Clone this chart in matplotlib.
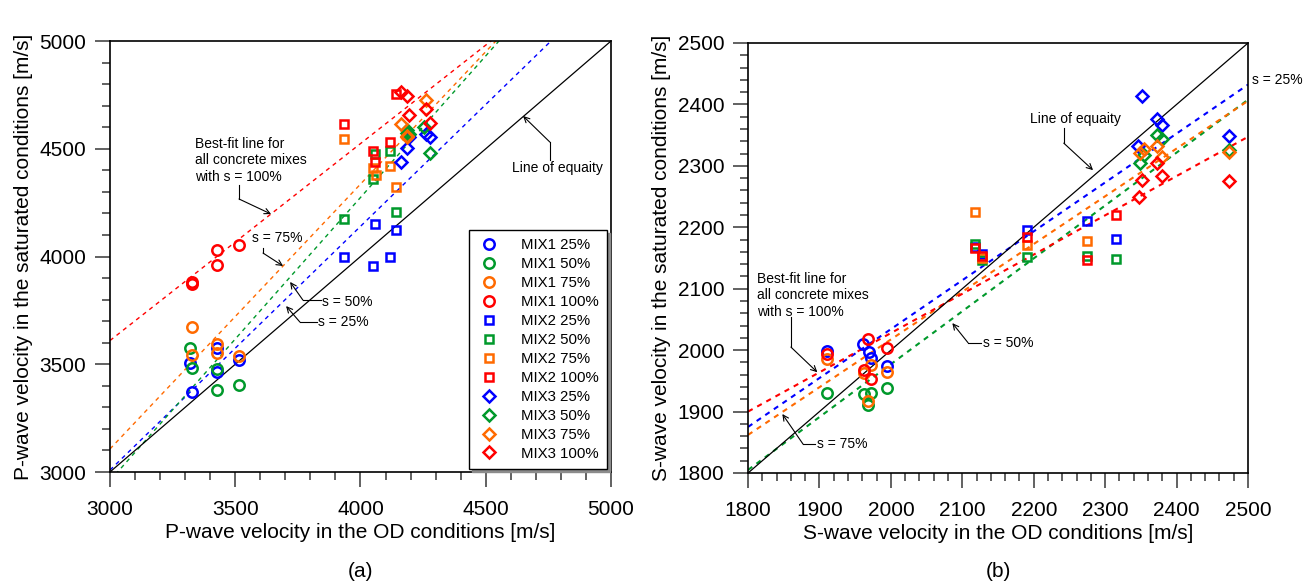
import matplotlib.pyplot as plt
import numpy as np

plt.rcParams['font.family'] = ['Liberation Sans', 'DejaVu Sans']

levels = ["25%", "50%", "75%", "100%"]
colors = ["#0000ff", "#00992b", "#ff6a00", "#ff0000"]
mixes = ["MIX1", "MIX2", "MIX3"]
markers = ["o", "s", "D"]

# P-wave (panel a): OD velocity / saturated velocity, per mix, per s level
p_od = [
    [[3320, 3328, 3428, 3428, 3516], [3320, 3328, 3428, 3428, 3516],
     [3328, 3328, 3428, 3428, 3516], [3328, 3328, 3428, 3428, 3516]],
    [[3935, 4051, 4117, 4057, 4143], [3935, 4057, 4051, 4117, 4143],
     [3935, 4051, 4060, 4117, 4143], [3935, 4051, 4057, 4117, 4143]],
    [[4160, 4184, 4193, 4260, 4277], [4187, 4192, 4253, 4277, 4184],
     [4160, 4184, 4260, 4184], [4160, 4184, 4193, 4260, 4277]],
]
p_sat = [
    [[3507, 3371, 3577, 3462, 3520], [3577, 3483, 3480, 3380, 3405],
     [3673, 3541, 3595, 3554, 3538], [3880, 3872, 3959, 4032, 4052]],
    [[3996, 3954, 3996, 4151, 4124], [4174, 4474, 4358, 4489, 4206],
     [4544, 4412, 4380, 4420, 4322], [4616, 4491, 4437, 4533, 4755]],
    [[4437, 4502, 4556, 4568, 4556], [4587, 4568, 4600, 4482, 4575],
     [4613, 4556, 4725, 4560], [4765, 4746, 4658, 4683, 4618]],
]
p_fit_slope = [1.131, 1.314, 1.229, 0.914]
p_fit_icpt = [-384, -982, -580, 868]

# S-wave (panel b)
s_od = [
    [[1911, 1961, 1969, 1972, 1994], [1911, 1962, 1972, 1968, 1994],
     [1911, 1963, 1972, 1968, 1994], [1911, 1968, 1963, 1972, 1994]],
    [[2118, 2127, 2190, 2275, 2315], [2118, 2127, 2190, 2275, 2315],
     [2118, 2127, 2190, 2275], [2118, 2127, 2190, 2275, 2315]],
    [[2352, 2372, 2379, 2346, 2474], [2372, 2379, 2349, 2355, 2474],
     [2349, 2372, 2379, 2474, 2355], [2372, 2352, 2379, 2348, 2474]],
]
s_sat = [
    [[1999, 2010, 1997, 1988, 1974], [1931, 1928, 1931, 1911, 1939],
     [1985, 1963, 1976, 1918, 1965], [1993, 2018, 1967, 1953, 2004]],
    [[2168, 2156, 2196, 2210, 2181], [2172, 2147, 2152, 2153, 2148],
     [2225, 2150, 2171, 2177], [2166, 2153, 2184, 2146, 2220]],
    [[2414, 2377, 2367, 2332, 2349], [2351, 2343, 2305, 2318, 2325],
     [2321, 2332, 2314, 2323, 2328], [2305, 2277, 2283, 2250, 2275]],
]
s_fit_slope = [0.796, 0.861, 0.777, 0.639]
s_fit_icpt = [442.2, 255.2, 463.4, 749.8]

msize = {"o": 7.5, "s": 5.2, "D": 6.2}

fig = plt.figure(figsize=(13.14, 5.81), dpi=100)
ax1 = fig.add_axes([0.0837, 0.1876, 0.3813, 0.7418])
ax2 = fig.add_axes([0.5693, 0.1859, 0.3805, 0.7401])


def draw_panel(ax, od, sat, slope, icpt, lo, hi, major, minor, dash_lw, dash):
    xs = np.array([lo, hi])
    for k in range(4):
        ax.plot(xs, slope[k] * xs + icpt[k], color=colors[k], lw=dash_lw,
                ls=(0, dash), zorder=2)
    ax.plot(xs, xs, color="black", lw=0.9, zorder=2)
    for m in range(3):
        for k in range(4):
            ax.plot(od[m][k], sat[m][k], ls="none", marker=markers[m],
                    ms=msize[markers[m]], mfc="none", mec=colors[k], mew=1.8,
                    label=mixes[m] + " " + levels[k], zorder=3)
    ax.set_xlim(lo, hi)
    ax.set_ylim(lo, hi)
    ax.set_xticks(np.arange(lo, hi + 1, major))
    ax.set_yticks(np.arange(lo, hi + 1, major))
    ax.set_xticks(np.arange(lo, hi + 1, minor), minor=True)
    ax.set_yticks(np.arange(lo, hi + 1, minor), minor=True)
    ax.tick_params(which="major", direction="out", length=11, width=1.3,
                   color="#555555", labelsize=15)
    ax.tick_params(which="minor", direction="out", length=6, width=1.3,
                   color="#555555")
    ax.tick_params(axis="x", which="major", pad=9)
    ax.tick_params(axis="y", which="major", pad=6)
    for sp in ax.spines.values():
        sp.set_linewidth(1.2)


def note(ax, text, xy, knee, start, textpos, ha="left", va="center"):
    ax.plot([start[0], knee[0]], [start[1], knee[1]], color="black", lw=0.8)
    ax.annotate("", xy=xy, xytext=knee,
                arrowprops=dict(arrowstyle="->", color="black", lw=0.8,
                                shrinkA=0, shrinkB=0))
    ax.text(textpos[0], textpos[1], text, fontsize=10, ha=ha, va=va)


draw_panel(ax1, p_od, p_sat, p_fit_slope, p_fit_icpt, 3000, 5000, 500, 100,
           1.0, (3, 3))
draw_panel(ax2, s_od, s_sat, s_fit_slope, s_fit_icpt, 1800, 2500, 100, 20,
           1.5, (2.5, 2.5))

ax1.set_xlabel("P-wave velocity in the OD conditions [m/s]", fontsize=15, labelpad=3)
ax1.set_ylabel("P-wave velocity in the saturated conditions [m/s]", fontsize=15, labelpad=5)
ax2.set_xlabel("S-wave velocity in the OD conditions [m/s]", fontsize=15, labelpad=3)
ax2.set_ylabel("S-wave velocity in the saturated conditions [m/s]", fontsize=15, labelpad=5)

leg = ax1.legend(loc="lower right", bbox_to_anchor=(0.992, 0.007), fontsize=10.8,
                 frameon=True, fancybox=False, edgecolor="black", framealpha=1,
                 borderaxespad=0, labelspacing=0.33, handlelength=1.5,
                 handletextpad=1.4, borderpad=0.55,
                 shadow={"color": "0.55", "alpha": 1})
leg.get_frame().set_linewidth(1.0)

# annotations, panel (a)
note(ax1, "Best-fit line for\nall concrete mixes\nwith s = 100%",
     (3643, 4197), (3515, 4267), (3515, 4332), (3339, 4554), va="top")
note(ax1, "s = 75%", (3691, 3956), (3611, 4016), (3611, 4039), (3567, 4086))
note(ax1, "s = 50%", (3719, 3882), (3770, 3798), (3842, 3798), (3846, 3789))
note(ax1, "s = 25%", (3703, 3770), (3758, 3696), (3826, 3696), (3830, 3696))
note(ax1, "Line of equaity", (4649, 4652), (4756, 4531), (4756, 4448),
     (4788, 4411), ha="center")

# annotations, panel (b)
note(ax2, "Line of equaity", (2283, 2293), (2242, 2337), (2242, 2362), (2195, 2376))
ax2.text(2506, 2440, "s = 25%", fontsize=10, ha="left", va="center")
note(ax2, "Best-fit line for\nall concrete mixes\nwith s = 100%",
     (1897, 1964), (1860, 2005), (1860, 2054), (1813, 2127), va="top")
note(ax2, "s = 75%", (1848, 1896), (1877, 1847), (1894, 1847), (1897, 1847))
note(ax2, "s = 50%", (2086, 2044), (2108, 2012), (2126, 2012), (2129, 2012))

fig.text(0.2744, 0.0155, "(a)", fontsize=15, ha="center", va="center")
fig.text(0.7596, 0.0155, "(b)", fontsize=15, ha="center", va="center")

fig.savefig("out.png", dpi=100)
